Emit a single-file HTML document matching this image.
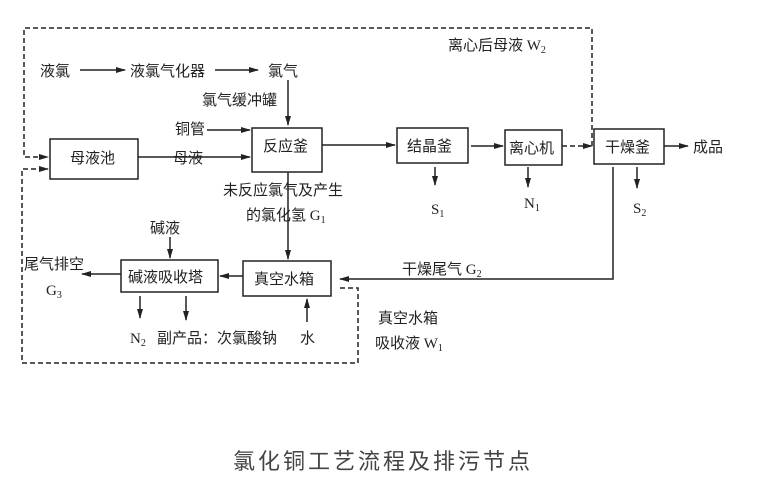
<!DOCTYPE html>
<html><head><meta charset="utf-8"><style>
body{margin:0;background:#fff;}
svg text{font-family:"Liberation Serif","Noto Sans CJK SC",sans-serif;font-size:15px;fill:#222;}
</style></head><body>
<svg width="760" height="492" viewBox="0 0 760 492" xmlns="http://www.w3.org/2000/svg">
<defs><marker id="a" markerWidth="10" markerHeight="8" refX="9" refY="4" orient="auto" markerUnits="userSpaceOnUse"><path d="M0,1 L10,4 L0,7 Z" fill="#222"/></marker></defs>
<g stroke="#222" stroke-width="1.5" fill="none">
<path d="M592,146 V28 H24 V157 H48" stroke-dasharray="5,3" marker-end="url(#a)"/>
<path d="M562,146 H592" stroke-dasharray="5,3" marker-end="url(#a)"/>
<path d="M340,288 H358 V363 H22 V169 H48" stroke-dasharray="5,3" marker-end="url(#a)"/>
<rect x="50" y="139" width="88" height="40"/>
<rect x="252" y="128" width="70" height="44"/>
<rect x="397" y="128" width="71" height="35"/>
<rect x="505" y="130" width="57" height="35"/>
<rect x="594" y="129" width="70" height="35"/>
<rect x="121" y="260" width="97" height="32"/>
<rect x="243" y="261" width="88" height="35"/>
<path d="M80,70 H125" marker-end="url(#a)"/>
<path d="M215,70 H258" marker-end="url(#a)"/>
<path d="M288,80 V125" marker-end="url(#a)"/>
<path d="M207,130 H250" marker-end="url(#a)"/>
<path d="M138,157 H250" marker-end="url(#a)"/>
<path d="M322,145 H395" marker-end="url(#a)"/>
<path d="M471,146 H503" marker-end="url(#a)"/>
<path d="M664,146 H688" marker-end="url(#a)"/>
<path d="M435,167 V185" marker-end="url(#a)"/>
<path d="M528,167 V187" marker-end="url(#a)"/>
<path d="M637,167 V188" marker-end="url(#a)"/>
<path d="M288,172 V259" marker-end="url(#a)"/>
<path d="M613,167 V279 H340" marker-end="url(#a)"/>
<path d="M243,276 H220" marker-end="url(#a)"/>
<path d="M121,274 H82" marker-end="url(#a)"/>
<path d="M170,237 V258" marker-end="url(#a)"/>
<path d="M140,296 V318" marker-end="url(#a)"/>
<path d="M186,296 V320" marker-end="url(#a)"/>
<path d="M307,322 V299" marker-end="url(#a)"/>
</g>
<text x="40" y="76">液氯</text>
<text x="130" y="76">液氯气化器</text>
<text x="268" y="76">氯气</text>
<text x="202" y="105">氯气缓冲罐</text>
<text x="175" y="134">铜管</text>
<text x="70" y="163">母液池</text>
<text x="173" y="163">母液</text>
<text x="263" y="151">反应釜</text>
<text x="407" y="151">结晶釜</text>
<text x="509" y="153">离心机</text>
<text x="605" y="152">干燥釜</text>
<text x="693" y="152">成品</text>
<text x="448" y="50">离心后母液 W<tspan font-size="10" dy="3">2</tspan></text>
<text x="223" y="195">未反应氯气及产生</text>
<text x="246" y="220">的氯化氢 G<tspan font-size="10" dy="3">1</tspan></text>
<text x="431" y="214">S<tspan font-size="10" dy="3">1</tspan></text>
<text x="524" y="208">N<tspan font-size="10" dy="3">1</tspan></text>
<text x="633" y="213">S<tspan font-size="10" dy="3">2</tspan></text>
<text x="150" y="233">碱液</text>
<text x="402" y="274">干燥尾气 G<tspan font-size="10" dy="3">2</tspan></text>
<text x="24" y="269">尾气排空</text>
<text x="46" y="295">G<tspan font-size="10" dy="3">3</tspan></text>
<text x="128" y="282">碱液吸收塔</text>
<text x="254" y="284">真空水箱</text>
<text x="130" y="343">N<tspan font-size="10" dy="3">2</tspan></text>
<text x="157" y="343">副产品：次氯酸钠</text>
<text x="300" y="343">水</text>
<text x="378" y="323">真空水箱</text>
<text x="375" y="348">吸收液 W<tspan font-size="10" dy="3">1</tspan></text>
<text x="233" y="469" style="font-size:22px;letter-spacing:3px;font-family:'Noto Sans CJK SC',sans-serif;fill:#444">氯化铜工艺流程及排污节点</text>
</svg>
</body></html>
